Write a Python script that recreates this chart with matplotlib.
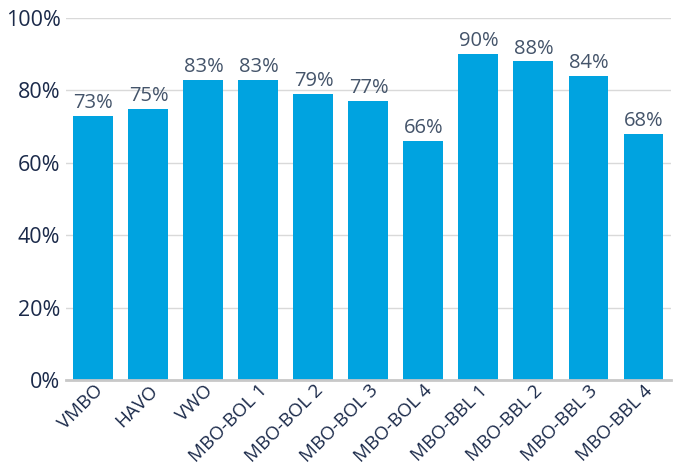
import matplotlib.pyplot as plt
from matplotlib.ticker import PercentFormatter

categories = ['VMBO', 'HAVO', 'VWO', 'MBO-BOL 1', 'MBO-BOL 2', 'MBO-BOL 3',
              'MBO-BOL 4', 'MBO-BBL 1', 'MBO-BBL 2', 'MBO-BBL 3', 'MBO-BBL 4']
values = [73, 75, 83, 83, 79, 77, 66, 90, 88, 84, 68]
y_ticks = [0, 20, 40, 60, 80, 100]

bar_color = '#00a3e0'
label_color = '#1b2a4a'
value_color = '#44546a'

plt.rcParams['font.family'] = ['Open Sans', 'DejaVu Sans']

fig = plt.figure(figsize=(6.76, 4.74), dpi=100)
ax = fig.add_axes([0.0976, 0.198, 0.895, 0.764])

x = range(len(categories))
bars = ax.bar(x, values, width=0.727, color=bar_color, zorder=3)

for rect, v in zip(bars, values):
    ax.text(rect.get_x() + rect.get_width() / 2, v + 0.8, f'{v}%',
            ha='center', va='bottom', fontsize=14.5, color=value_color)

ax.set_xlim(-0.5, len(categories) - 0.5)
ax.set_ylim(0, 100)
ax.set_yticks(y_ticks)
ax.yaxis.set_major_formatter(PercentFormatter(decimals=0))
ax.grid(axis='y', color='#d9d9d9', linewidth=1, zorder=0)

for side in ['top', 'right', 'left']:
    ax.spines[side].set_visible(False)
ax.spines['bottom'].set_color('#c8c8c8')
ax.spines['bottom'].set_linewidth(2)
ax.spines['bottom'].set_zorder(4)

ax.set_xticks(list(x))
ax.set_xticklabels(categories, rotation=45, ha='right', va='top',
                   rotation_mode='anchor', fontsize=13.5, color=label_color)
ax.tick_params(axis='x', length=0, pad=1)
ax.tick_params(axis='y', length=0, pad=4, labelsize=15.5, labelcolor=label_color)

fig.savefig('out.png', dpi=100)
